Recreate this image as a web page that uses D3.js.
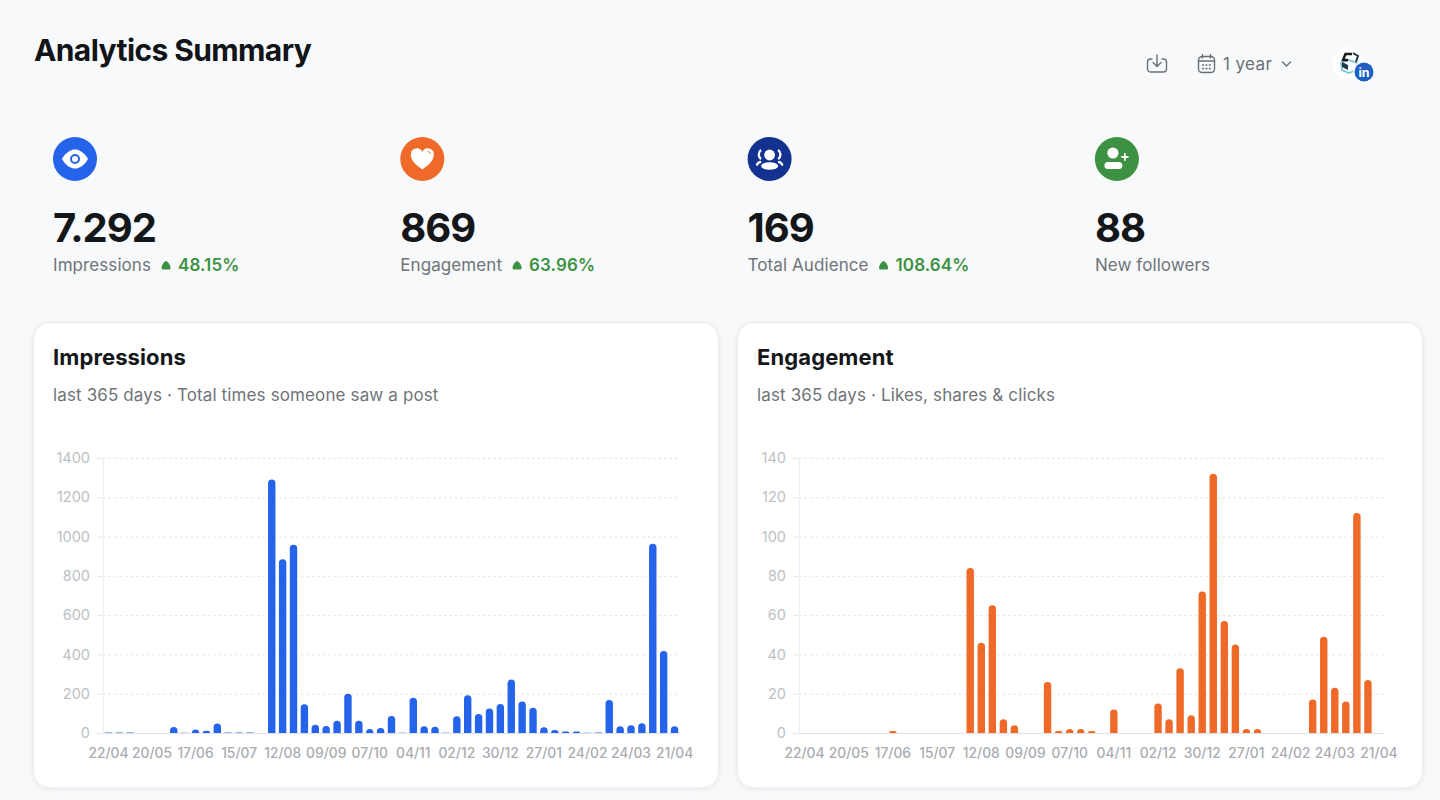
<!doctype html>
<html lang="en">
<head>
<meta charset="utf-8">
<title>Analytics Summary</title>
<script src="https://d3js.org/d3.v7.min.js"></script>
<style>
html, body { margin: 0; padding: 0; background: #f8f9fb; overflow: hidden; }
svg { display: block; }
text { font-family: Inter, "Noto Sans", sans-serif; }
</style>
</head>
<body>
<svg id="page" width="1440" height="800"></svg>
<script>
// weekly buckets, one bar per week
var weeks = ['22/04','29/04','06/05','13/05','20/05','27/05','03/06','10/06','17/06','24/06','01/07','08/07','15/07','22/07','29/07','05/08','12/08','19/08','26/08','02/09','09/09','16/09','23/09','30/09','07/10','14/10','21/10','28/10','04/11','11/11','18/11','25/11','02/12','09/12','16/12','23/12','30/12','06/01','13/01','20/01','27/01','03/02','10/02','17/02','24/02','03/03','10/03','17/03','24/03','31/03','07/04','14/04','21/04'];

var impressions = [2,2,2,0,0,0,30,1,18,12,48,2,3,2,0,1290,885,958,146,42,36,62,200,62,20,26,86,1,180,35,32,1,85,192,97,125,148,272,160,128,29,15,8,8,1,2,168,34,40,50,964,418,34];
var engagement = [0,0,0,0,0,0,0,0,1,0,0,0,0,0,0,84,46,65,7,4,0,0,26,1,2,2,1,0,12,0,0,0,15,7,33,9,72,132,57,45,2,2,0,0,0,0,17,49,23,16,112,27,0];

var impressionTicks = [0,200,400,600,800,1000,1200,1400];
var engagementTicks = [0,20,40,60,80,100,120,140];

var kpiValues = ['7.292','869','169','88'];
var kpiLabels = ['Impressions','Engagement','Total Audience','New followers'];
var kpiDeltas = ['48.15%','63.96%','108.64%',''];
var kpiColors = ['#2563eb','#ef6a29','#13318f','#3d9142'];

var svg = d3.select('#page');

// header
svg.append('text').attr('x', 34).attr('y', 61)
   .attr('font-size', 30).attr('font-weight', 700).attr('letter-spacing', -0.6)
   .attr('fill', '#111418').text('Analytics Summary');

var stroke = '#6b7075';
var dl = svg.append('g').attr('transform', 'translate(1147,54)')
   .attr('fill', 'none').attr('stroke', stroke).attr('stroke-width', 1.4)
   .attr('stroke-linecap', 'round').attr('stroke-linejoin', 'round');
dl.append('path').attr('d', 'M5 5H3.5A3 3 0 0 0 .5 8v7a3 3 0 0 0 3 3h13a3 3 0 0 0 3-3V8a3 3 0 0 0-3-3H15');
dl.append('path').attr('d', 'M10 1v11M6 8.5l4 4 4-4');

var cal = svg.append('g').attr('transform', 'translate(1198,54)')
   .attr('fill', 'none').attr('stroke', stroke).attr('stroke-width', 1.4).attr('stroke-linecap', 'round');
cal.append('rect').attr('x', .5).attr('y', 2.5).attr('width', 16).attr('height', 16).attr('rx', 3.5);
cal.append('path').attr('d', 'M.5 7h16M4.5 .5v3.5M12.5 .5v3.5');
cal.append('path').attr('stroke-dasharray', '1 2.4').attr('d', 'M4.5 11h9M4.5 14.5h9');

svg.append('text').attr('x', 1223).attr('y', 69.5).attr('font-size', 17).attr('fill', stroke)
   .attr('letter-spacing', 0.4).text('1 year');
svg.append('path').attr('d', 'M1282.5 62l4 4 4-4').attr('fill', 'none')
   .attr('stroke', stroke).attr('stroke-width', 1.4).attr('stroke-linecap', 'round').attr('stroke-linejoin', 'round');

// account avatar with the linkedin badge
svg.append('circle').attr('cx', 1348).attr('cy', 63).attr('r', 16).attr('fill', '#ffffff');
var logo = svg.append('g').attr('transform', 'translate(1340,51)');
logo.append('path').attr('d', 'M1 12l8-3 8 3-1 7-7 3-7-3z').attr('fill', 'none').attr('stroke', '#7fc3d3').attr('stroke-width', 1.8);
logo.append('path').attr('d', 'M12 3H5.5L3 9h5').attr('fill', 'none').attr('stroke', '#16181c').attr('stroke-width', 2.4);
logo.append('path').attr('d', 'M13 2l5 3-2 6').attr('fill', 'none').attr('stroke', '#1f3a4a').attr('stroke-width', 2);
logo.append('path').attr('d', 'M2 11l6 3v5l-6-3z').attr('fill', '#1f3a4a');
svg.append('circle').attr('cx', 1364).attr('cy', 72).attr('r', 11).attr('fill', '#ffffff').attr('opacity', .85);
svg.append('circle').attr('cx', 1364).attr('cy', 72).attr('r', 9.5).attr('fill', '#1f5fc4');
svg.append('text').attr('x', 1364).attr('y', 76.5).attr('text-anchor', 'middle').attr('font-size', 12.5)
   .attr('font-weight', 700).attr('fill', '#ffffff').text('in');

// kpi row
var iconPaths = [
  function (g) {
    g.append('path').attr('d', 'M-13 0C-9-7-4-9.5 0-9.5S9-7 13 0C9 7 4 9.5 0 9.5S-9 7-13 0Z').attr('fill', '#fff');
    g.append('circle').attr('r', 5).attr('fill', '#2563eb');
    g.append('circle').attr('r', 3).attr('fill', '#fff');
  },
  function (g) {
    g.append('path').attr('d', 'M0 10.5C-6 6-11.5 2-11.5-4.5A6 6 0 0 1 0-7 6 6 0 0 1 11.5-4.5C11.5 2 6 6 0 10.5Z').attr('fill', '#fff');
    g.append('path').attr('d', 'M5.5-8A3.5 3.5 0 0 1 8-5').attr('fill', 'none').attr('stroke', '#ef6a29').attr('stroke-width', .9);
  },
  function (g) {
    g.append('circle').attr('cy', -4).attr('r', 5.4).attr('fill', '#fff');
    g.append('ellipse').attr('cy', 7).attr('rx', 8.5).attr('ry', 3.8).attr('fill', '#fff');
    g.append('path').attr('d', 'M-8.5-9A5.5 5.5 0 0 0-8.5 0M8.5-9A5.5 5.5 0 0 1 8.5 0').attr('fill', 'none').attr('stroke', '#fff').attr('stroke-width', 2.3);
    g.append('path').attr('d', 'M-12.5 5.5C-12 4-11 3.3-9.5 3M12.5 5.5C12 4 11 3.3 9.5 3').attr('fill', 'none').attr('stroke', '#fff').attr('stroke-width', 2.4).attr('stroke-linecap', 'round');
  },
  function (g) {
    g.append('circle').attr('cx', -4).attr('cy', -6).attr('r', 5.6).attr('fill', '#fff');
    g.append('rect').attr('x', -12.5).attr('y', 3).attr('width', 18).attr('height', 7).attr('rx', 3.5).attr('fill', '#fff');
    g.append('path').attr('d', 'M8-5v6M5-2h6').attr('stroke', '#fff').attr('stroke-width', 1.8).attr('stroke-linecap', 'round');
  }
];

var kpi = svg.selectAll('g.kpi').data(kpiValues).enter().append('g')
   .attr('class', 'kpi')
   .attr('transform', function (d, i) { return 'translate(' + (53 + i * 347.3) + ',0)'; });

kpi.append('circle').attr('cx', 22).attr('cy', 159).attr('r', 22)
   .attr('fill', function (d, i) { return kpiColors[i]; });
kpi.append('g').attr('transform', 'translate(22,159)')
   .each(function (d, i) { iconPaths[i](d3.select(this)); });
kpi.append('text').attr('y', 242).attr('font-size', 40).attr('font-weight', 700)
   .attr('letter-spacing', -1).attr('fill', '#14171a').text(function (d) { return d; });
var kpiLabel = kpi.append('text').attr('y', 271).attr('font-size', 17).attr('letter-spacing', 0.08)
   .attr('fill', '#6f7478').text(function (d, i) { return kpiLabels[i]; });

kpi.each(function (d, i) {
  if (!kpiDeltas[i]) return;
  var x = kpiLabel.nodes()[i].getComputedTextLength() + 10;
  var g = d3.select(this);
  g.append('path').attr('transform', 'translate(' + (x + 5) + ',265.5)')
   .attr('d', 'M0-4.5C1.5-4.5 4.5-.5 4.5 2.2 4.5 3.5 3.8 4 3 4H-3C-3.8 4-4.5 3.5-4.5 2.2-4.5-.5-1.5-4.5 0-4.5Z')
   .attr('fill', '#3d9142');
  g.append('text').attr('x', x + 17).attr('y', 271).attr('font-size', 17).attr('font-weight', 600)
   .attr('letter-spacing', 0.1).attr('fill', '#3d9142').text(kpiDeltas[i]);
});

// shadow for the cards
var filter = svg.append('defs').append('filter').attr('id', 'cardShadow')
   .attr('x', '-5%').attr('y', '-5%').attr('width', '110%').attr('height', '110%');
filter.append('feDropShadow').attr('dx', 0).attr('dy', 1).attr('stdDeviation', 2)
   .attr('flood-color', '#10182f').attr('flood-opacity', .08);

function topRoundedBar(x, y, w, h) {
  var r = Math.min(3.6, w / 2, h);
  return 'M' + x + ',' + (y + h) + 'V' + (y + r) +
         'A' + r + ',' + r + ' 0 0 1 ' + (x + r) + ',' + y +
         'H' + (x + w - r) +
         'A' + r + ',' + r + ' 0 0 1 ' + (x + w) + ',' + (y + r) +
         'V' + (y + h) + 'Z';
}

function drawCard(cardX, title, subtitle, values, ticks, color, plotLeft, plotRight) {
  var card = svg.append('g');
  card.append('rect').attr('x', cardX + .5).attr('y', 322.5).attr('width', 685).attr('height', 465.5).attr('rx', 16)
      .attr('fill', '#ffffff').attr('stroke', '#e7e9ee').attr('filter', 'url(#cardShadow)');
  card.append('text').attr('x', cardX + 20).attr('y', 365).attr('font-size', 22).attr('font-weight', 700)
      .attr('letter-spacing', 0.1).attr('fill', '#14171a').text(title);
  card.append('text').attr('x', cardX + 20).attr('y', 400.5).attr('font-size', 17).attr('letter-spacing', 0.13)
      .attr('fill', '#6f7478').text(subtitle);

  var x = d3.scaleBand().domain(weeks).range([plotLeft, plotRight]);
  var y = d3.scaleLinear().domain([0, d3.max(ticks)]).range([733, 458]);
  var barW = 7.4;

  // dotted grid
  card.append('g').selectAll('line').data(ticks.slice(1)).enter().append('line')
      .attr('x1', plotLeft).attr('x2', plotRight)
      .attr('y1', function (d) { return y(d) + .5; }).attr('y2', function (d) { return y(d) + .5; })
      .attr('stroke', '#e2e4e8').attr('stroke-dasharray', '2.5 3');

  var yAxis = card.append('g').attr('transform', 'translate(' + plotLeft + ',0)')
      .call(d3.axisLeft(y).tickValues(ticks).tickFormat(d3.format('d')).tickSize(6).tickPadding(7));
  yAxis.select('.domain').attr('stroke', '#eceef1').attr('stroke-width', 1.2);
  yAxis.selectAll('.tick line').attr('stroke', '#e6e8ec');
  yAxis.selectAll('text').attr('font-size', 14.5).attr('fill', '#bcbfc3')
      .style('font-family', 'Inter, "Noto Sans", sans-serif');

  var xAxis = card.append('g').attr('transform', 'translate(0,733)')
      .call(d3.axisBottom(x)
        .tickValues(weeks.filter(function (d, i) { return i % 4 === 0; }))
        .tickSize(0).tickPadding(15));
  xAxis.select('.domain').attr('stroke', '#dfe3e8').attr('stroke-width', 1.2);
  xAxis.selectAll('text').attr('font-size', 13.8).attr('font-weight', 500).attr('fill', '#a9acb0')
      .style('font-family', 'Inter, "Noto Sans", sans-serif');

  card.append('g').selectAll('path').data(values).enter().append('path')
      .attr('fill', color)
      .attr('d', function (d, i) {
        var h = y(0) - y(d);
        if (h <= 0) return null;
        var cx = x(weeks[i]) + x.bandwidth() / 2;
        return topRoundedBar(cx - barW / 2, y(d), barW, h);
      });
}

drawCard(33, 'Impressions', 'last 365 days · Total times someone saw a post', impressions, impressionTicks, '#2563eb', 103, 680);
drawCard(737, 'Engagement', 'last 365 days · Likes, shares & clicks', engagement, engagementTicks, '#ef6a29', 799, 1384.5);
</script>
</body>
</html>
